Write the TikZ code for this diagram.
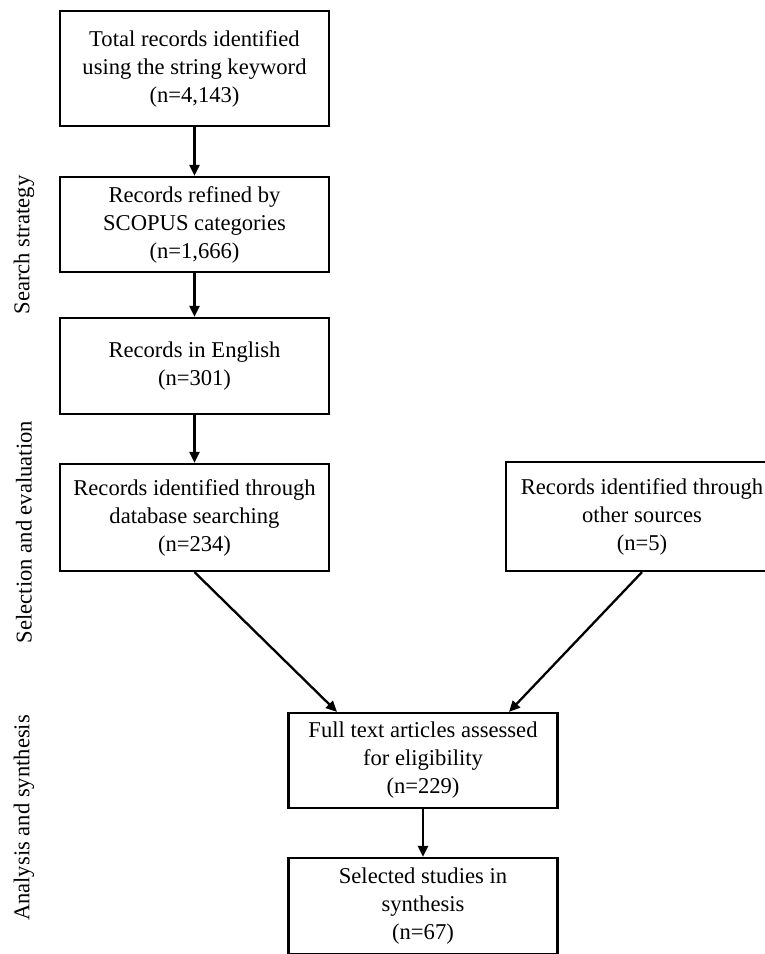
\documentclass[tikz,border=0pt]{standalone}
\usepackage{fontspec}
\setmainfont{Liberation Serif}
\usetikzlibrary{arrows.meta,calc}

\begin{document}
\begin{tikzpicture}[x=1pt,y=-1pt,
  box/.style={draw,line width=2.2pt,align=center,inner sep=0pt,minimum width=269pt,font=\fontsize{22.6}{28}\selectfont},
  arr/.style={line width=2.3pt,-{Triangle[length=11pt,width=10pt]}},
  phase/.style={rotate=90,font=\fontsize{22.6}{28}\selectfont}]
\useasboundingbox (0,0) rectangle (764,954);
\node[box,minimum height=115pt] (total) at (194.5,68.5) {Total records identified\\using the string keyword\\(n=4,143)};
\node[box,minimum height=95pt] (scopus) at (194.5,224.5) {Records refined by\\SCOPUS categories\\(n=1,666)};
\node[box,minimum height=96pt] (english) at (194.5,366) {Records in English\\(n=301)};
\node[box,minimum height=107pt] (database) at (194.5,517.5) {Records identified through\\database searching\\(n=234)};
\node[box,minimum height=109pt,minimum width=272pt] (other) at (642,516.5) {Records identified through\\other sources\\(n=5)};
\node[box,minimum height=95pt] (full) at (423,760.5) {Full text articles assessed\\for eligibility\\(n=229)};
\node[box,minimum height=96pt] (selected) at (423,906) {Selected studies in\\synthesis\\(n=67)};
% phases
\node[phase] (search) at (24,245) {Search strategy};
\node[phase] (selection) at (24,532) {Selection and evaluation};
\node[phase] (analysis) at (24,818) {Analysis and synthesis};
% arrows
\draw[arr] (total) -- (scopus);
\draw[arr] (scopus) -- (english);
\draw[arr] (english) -- (database);
\draw[arr] (database.south) -- ($(full.north)+(-86,0)$);
\draw[arr] (other.south) -- ($(full.north)+(86,0)$);
\draw[arr] (full) -- (selected);
\end{tikzpicture}
\end{document}
